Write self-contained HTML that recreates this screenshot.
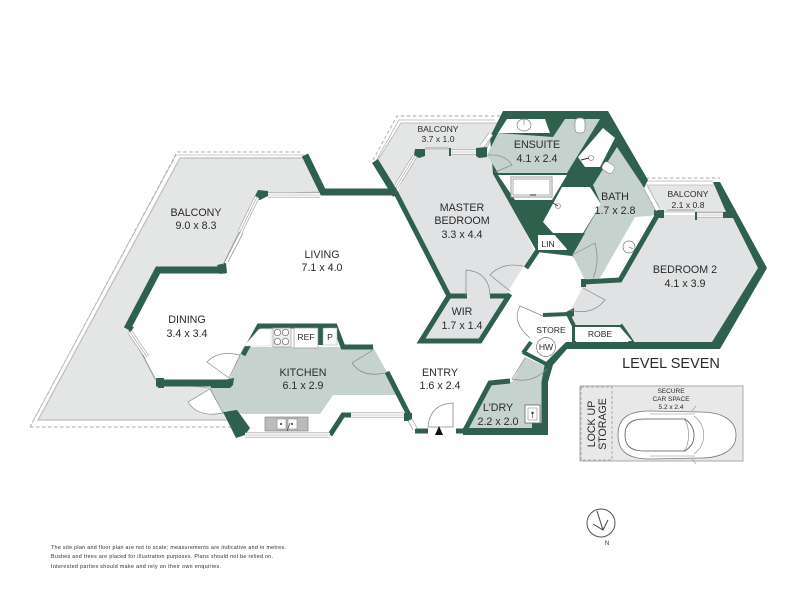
<!DOCTYPE html>
<html><head><meta charset="utf-8"><style>
html,body{margin:0;padding:0;background:#fff}
svg{display:block;filter:blur(.3px)}
text{font-family:"Liberation Sans",sans-serif;fill:#2a2a2a;text-anchor:middle}
.w{fill:none;stroke:#2f5f4d;stroke-linejoin:miter;stroke-linecap:butt}
.d{fill:#2f5f4d}
.t{fill:none;stroke:#888;stroke-width:.7}
.s{fill:#fff;stroke:#8a8a8a;stroke-width:.7}
.g1{stroke:#9a9a9a;stroke-width:5;fill:none}.g2{stroke:#fff;stroke-width:3.8;fill:none}.g3{stroke:#9a9a9a;stroke-width:.6;fill:none}
.dash{fill:none;stroke:#aaa;stroke-width:.9;stroke-dasharray:3.5 2.5}
.dr{fill:#fff;stroke:#888;stroke-width:.7}
</style></head><body>
<svg width="800" height="600" viewBox="0 0 800 600" xmlns="http://www.w3.org/2000/svg">
<rect width="800" height="600" fill="#fff"/>

<!-- big balcony -->
<polyline class="dash" points="30,427 177,152 300,152"/>
<polyline class="dash" points="30,427 240,427"/>
<polyline fill="none" stroke="#b5b5b5" stroke-width=".8" points="32,423 176,155 304,155"/>
<polygon fill="#e4e6e5" stroke="#bdbdbd" stroke-width="1.2" points="38,420 180,158 304,158 320,192 268,194 258,193 222,267 158,270 127,327 157,382 210,388 225,413 234,420"/>

<!-- master balcony -->
<polyline class="dash" points="373,160 397,116 500,116"/>
<polyline fill="none" stroke="#b5b5b5" stroke-width=".8" points="376,161 399,120 495,120"/>
<polygon fill="#e4e6e5" stroke="#bdbdbd" stroke-width="1" points="378,160 401,123 498,123 486,150 418,150 396,190"/>

<!-- bed2 balcony -->
<polyline class="dash" stroke-dasharray="2 2" points="646,178 720,178"/>
<polyline fill="none" stroke="#b5b5b5" stroke-width=".8" points="645,181 712,181"/>
<polygon fill="#e4e6e5" stroke="#bbb" stroke-width=".8" points="647,185 715,185 727,212 660,212"/>

<!-- bedrooms -->
<polygon fill="#e0e2e4" points="397,193 418,150 486,150 534,250 505,296 448,296"/>
<polygon fill="#e0e2e4" points="417,343 447,297 510,295 478,343"/>
<polygon fill="#e0e2e4" points="585,282 620,280 660,215 736,215 762,268 715,344 638,344 620,325 575,325 570,312"/>

<!-- kitchen -->
<polygon fill="#c5d2cd" points="230,378 243,347 373,347 387,372 397,395 333,395 320,414 243,414 223,410 210,388"/>

<!-- ensuite/bath dark mass -->
<polygon class="d" points="490,137 503,111 608,111 648,180 600,278 572,256 537,252 493,174"/>
<polygon fill="#c5d2cd" points="498,133 553,137 565,119 600,119 567,173 498,173 487,155"/>
<polygon fill="#fff" points="498,133 507,119 545,119 550,133"/>
<polygon fill="#fff" points="498,175 567,175 552,200 515,200"/>
<polygon fill="#fff" points="578,157 603,128 615,138 600,167 585,167"/>
<polygon fill="#fff" points="543,222 562,187 590,187 601,204 583,233 553,233"/>
<polygon fill="#c5d2cd" points="617,147 641,183 660,215 635,217 600,278 585,280 572,254 601,204 593,185"/>
<polygon fill="#fff" points="637,218 653,218 618,278 600,278"/>
<rect x="538" y="235" width="29" height="15" fill="#fff"/>
<polygon class="d" points="553,233 585,233 572,256 566,248"/>

<!-- walls -->
<polyline class="w" stroke-width="7" points="305,155 323,192 394,192"/>
<polyline class="w" stroke-width="7" points="375,161 396,195"/>
<polyline class="w" stroke-width="5" points="396,193 449,296 467,296"/>
<polyline class="w" stroke-width="5" points="490,296 510,296"/>
<polyline class="w" stroke-width="5" points="449,296 421,341 480,341 510,294"/>
<polyline class="w" stroke-width="5" points="526,268 538,250"/>
<polyline class="w" stroke-width="7" points="226,270 158,270 127,329"/>
<polyline class="w" stroke-width="7" points="156,383 232,383"/>
<polygon class="d" points="127,325 130,333 134,327"/>
<polygon class="d" points="156,378 164,378 164,388 158,388"/>
<polygon class="d" points="258,190 268,191 268,196 260,200 254,198"/>
<polygon class="d" points="217,265 226,263 227,273 220,274"/>
<polygon class="d" points="229,379 234,378 233,385 230,388 211,388 210,383"/>
<polyline class="w" stroke-width="5" points="243,355 259,326 335,326 343,347 373,347"/>
<rect class="d" x="318" y="326" width="5" height="19"/>
<polyline class="w" stroke-width="5" points="387,372 410,417"/>
<polygon class="d" points="223,412 237,410 250,428 245,435 236,438"/>
<polyline class="w" stroke-width="5" points="330,435 343,415 351,415"/>
<rect class="d" x="404" y="413" width="8" height="8"/>
<polyline class="w" stroke-width="5" points="415,431 428,431"/>
<polyline class="w" stroke-width="5" points="456,431 466,431"/>
<!-- laundry fill then walls -->
<polygon fill="#c5d2cd" points="466,430 491,384 512,382 525,357 547,367 544,382 544,430"/>
<polyline class="w" stroke-width="5" points="464,432 490,383 510,381"/>
<polygon class="d" points="463,435 548,435 548,382 553,365 567,349 720,349 767,268 720,182 713,182 726,212 733,218 758,268 712,342 566,342 545,363 541.5,382 541.5,423 532,423 532,428 463,428"/>
<polyline class="w" stroke-width="4" points="523,352 548,365"/>
<polyline class="w" stroke-width="4" points="523,353 531,342"/>
<polyline class="w" stroke-width="4" points="543,315 568,314 574,326 574,343"/>
<polygon class="d" points="566,312 574,308 574,316 568,318"/>
<polyline class="w" stroke-width="5" points="620,325 633,344"/>
<polygon class="d" points="585,325 620,325 622,327 576,327 574,325"/>
<polyline class="w" stroke-width="5" points="658,214 620,280 583,282"/>
<rect class="d" x="654" y="210" width="10" height="8"/>
<rect class="d" x="581" y="279" width="5" height="8"/>
<rect fill="#fff" x="575" y="327" width="45" height="14"/>
<polygon fill="#fff" points="620,327 632,341 620,341"/>
<polygon class="d" points="415,149 425,149 425,156 419,158 414,155"/>
<polygon class="d" points="476,148 487,147 487,157 479,158 476,156"/>
<rect class="d" x="449" y="148" width="2" height="8"/>
<rect class="d" x="695" y="212" width="2" height="8"/>
<rect class="d" x="723" y="212" width="10" height="6"/>

<!-- windows -->
<polyline class="g1" points="268,195 320,195"/><polyline class="g2" points="268,195 320,195"/><polyline class="g3" points="268,195 320,195"/>
<polyline class="g1" points="257,197 240,232"/><polyline class="g2" points="257,197 240,232"/><polyline class="g3" points="257,197 240,232"/>
<polyline class="t" points="240,232 223,265"/><polyline class="t" points="243,233 228,262"/>
<polyline class="g1" points="130,332 147,357"/><polyline class="g2" points="130,332 147,357"/><polyline class="g3" points="130,332 147,357"/>
<polyline class="t" points="143,355 155,379"/>
<polyline class="g1" points="415,156 396,187"/><polyline class="g2" points="415,156 396,187"/><polyline class="g3" points="415,156 396,187"/>
<polyline class="g1" points="451,152 476,152"/><polyline class="g2" points="451,152 476,152"/><polyline class="g3" points="451,152 476,152"/>
<polyline class="t" points="425,148 449,148"/>
<polyline class="g1" points="482,146 491,134"/><polyline class="g2" points="482,146 491,134"/>
<polyline class="g1" points="646,188 658,210"/><polyline class="g2" points="646,188 658,210"/>
<polyline class="g1" points="697,215 723,215"/><polyline class="g2" points="697,215 723,215"/><polyline class="g3" points="697,215 723,215"/>
<polyline class="t" points="667,210 695,210"/>
<polyline class="g1" points="245,435 330,435"/><polyline class="g2" points="245,435 330,435"/><polyline class="g3" points="245,435 330,435"/>
<polyline class="g1" points="351,415 404,415"/><polyline class="g2" points="351,415 404,415"/><polyline class="g3" points="351,415 404,415"/>
<polyline class="g1" points="410,420 415,429"/><polyline class="g2" points="410,420 415,429"/>

<!-- doors -->
<path class="dr" d="M229,378 L207,362 Q218,350 240,355 Z"/>
<path class="dr" d="M210,389 L188,402 Q198,418 223,413 Z"/>
<path class="t" d="M373,350 L352,363 Q362,378 385,373"/>
<path class="dr" d="M453,427 L453,403 Q430,404 428,427 Z" style="stroke-width:.8"/>
<path class="t" d="M495,172 L512,165 Q505,154 488,155" fill="none"/>
<path class="t" d="M466,296 L466,270 Q489,272 490,295"/>
<path class="t" d="M510,291 L490,275 Q502,262 523,266"/>
<path class="dr" d="M543,316 L520,306 Q511,322 530,338"/>
<path class="t" d="M512,379 L525,358"/>
<path class="t" d="M512,379 Q532,384 547,369"/>
<path class="t" d="M595,243 L572,255 M595,243 Q600,262 593,278"/>
<path class="t" d="M583,288 L605,300 Q592,316 570,310"/>
<polygon fill="#111" points="439,426 443,435 435,435"/>

<!-- fixtures -->
<ellipse cx="524" cy="125" rx="7" ry="6" fill="#fff" stroke="#777" stroke-width=".7"/>
<path class="t" d="M524,119V125"/>
<rect x="575" y="118" width="10" height="15" rx="4" fill="#fff" stroke="#888" stroke-width=".7"/>
<rect x="511" y="177" width="41" height="20" fill="#fff" stroke="#999" stroke-width="1"/>
<rect x="513" y="179" width="37" height="16" fill="#fff" stroke="#777" stroke-width=".6"/>
<path d="M530,195h6" stroke="#444" stroke-width="1.2"/>
<circle cx="591" cy="158" r="2.5" fill="#fff" stroke="#777" stroke-width=".6"/>
<circle cx="558" cy="206" r="2.5" fill="#fff" stroke="#777" stroke-width=".6"/>
<path d="M581,160l8,-2M553,203l5,3" stroke="#333" stroke-width="1"/>
<rect x="602" y="163" width="12" height="9" rx="3" transform="rotate(32 608 168)" fill="#fff" stroke="#888" stroke-width=".6"/>
<circle cx="629" cy="247" r="6" fill="#fff" stroke="#777" stroke-width=".7"/>
<path class="t" d="M629,247l4,2"/>
<rect x="273" y="328" width="18" height="19" fill="#eee" stroke="#999" stroke-width=".7"/>
<g fill="#fff" stroke="#666" stroke-width=".7"><circle cx="277.5" cy="332.5" r="3.2"/><circle cx="285.5" cy="332.5" r="3.2"/><circle cx="277.5" cy="341.5" r="3.2"/><circle cx="285.5" cy="341.5" r="3.2"/></g>
<rect x="294" y="328" width="24" height="20" fill="#fff" stroke="#999" stroke-width=".7"/>
<rect x="323" y="328" width="14" height="17" fill="#fff" stroke="#999" stroke-width=".5"/>
<polygon fill="#fff" points="259,329 271,329 271,346 244,346" stroke="#bbb" stroke-width=".4"/>
<rect x="265" y="417" width="43" height="14" fill="#bbb" stroke="#777" stroke-width=".6"/>
<rect x="277" y="419" width="9" height="10" fill="#fff" stroke="#777" stroke-width=".5"/>
<rect x="288" y="419" width="9" height="10" fill="#fff" stroke="#777" stroke-width=".5"/>
<circle cx="281" cy="424" r="1" fill="#333"/><circle cx="292" cy="424" r="1" fill="#333"/>
<path d="M287,431l3,-8" stroke="#333" stroke-width=".7"/>
<rect x="525" y="405" width="15" height="18" fill="#fff" stroke="#666" stroke-width=".8"/>
<rect x="528" y="408" width="9" height="12" fill="#fff" stroke="#888" stroke-width=".6"/>
<circle cx="532.5" cy="413" r="1.2" fill="#333"/><path d="M532.5,413v5" stroke="#333" stroke-width=".6"/>
<circle cx="546" cy="347" r="9.5" fill="#fff" stroke="#777" stroke-width=".7"/>

<!-- labels -->
<g font-size="10.7">
<text x="196" y="216">BALCONY</text><text x="196" y="229">9.0 x 8.3</text>
<text x="322" y="258">LIVING</text><text x="322" y="271">7.1 x 4.0</text>
<text x="187" y="323">DINING</text><text x="187" y="337">3.4 x 3.4</text>
<text x="303" y="376">KITCHEN</text><text x="303" y="389">6.1 x 2.9</text>
<text x="440" y="376">ENTRY</text><text x="440" y="389">1.6 x 2.4</text>
<text x="462" y="211">MASTER</text><text x="462" y="224">BEDROOM</text><text x="462" y="238">3.3 x 4.4</text>
<text x="537" y="148">ENSUITE</text><text x="537" y="162">4.1 x 2.4</text>
<text x="615" y="200">BATH</text><text x="615" y="214">1.7 x 2.8</text>
<text x="685" y="273">BEDROOM 2</text><text x="685" y="287">4.1 x 3.9</text>
<text x="462" y="315">WIR</text><text x="462" y="329">1.7 x 1.4</text>
<text x="498" y="411">L'DRY</text><text x="498" y="425">2.2 x 2.0</text>
</g>
<g font-size="8.6">
<text x="438" y="132">BALCONY</text><text x="438" y="142">3.7 x 1.0</text>
<text x="688" y="197">BALCONY</text><text x="688" y="208">2.1 x 0.8</text>
<text x="600" y="337">ROBE</text>
<text x="551" y="333">STORE</text>
<text x="548" y="247">LIN</text>
<text x="306" y="340">REF</text>
<text x="330" y="340">P</text>
<text x="546" y="350">HW</text>
</g>
<text x="671" y="368" font-size="14.5">LEVEL SEVEN</text>

<!-- car -->
<rect x="580" y="386" width="163" height="75" fill="#e8e8e8" stroke="#aaa" stroke-width="1"/>
<rect x="581" y="387" width="31" height="73" fill="#e8e8e8" stroke="#999" stroke-width=".8" stroke-dasharray="3 2"/>
<text transform="translate(595,424) rotate(-90)" font-size="10.6">LOCK UP</text>
<text transform="translate(606,424) rotate(-90)" font-size="10.6">STORAGE</text>
<text x="671" y="393" font-size="6.5">SECURE</text>
<text x="671" y="401" font-size="6.5">CAR SPACE</text>
<text x="671" y="409" font-size="6.5">5.2 x 2.4</text>
<path d="M618,435 C618,417 630,411 650,411 L700,412 C722,412 736,420 736,435 C736,450 722,458 700,458 L650,459 C630,459 618,453 618,435Z" fill="#fff" stroke="#777" stroke-width=".8"/>
<path d="M625,435 C625,423 632,419 645,419 L685,419 C692,424 694,430 694,435 C694,442 692,446 685,451 L645,451 C632,451 625,447 625,435Z" fill="#fff" stroke="#555" stroke-width=".8"/>
<path d="M684,419 C690,426 690,444 684,451 M694,416 C707,425 707,445 694,454 M650,414 L695,414 M650,456 L695,456 M692,411l4,-5 M692,459l4,5" fill="none" stroke="#888" stroke-width=".6"/>

<!-- north -->
<circle cx="601" cy="523" r="14" fill="#fff" stroke="#555" stroke-width="1"/>
<path d="M597,511 L603,530 M593,524 L603,530 L608,520" fill="none" stroke="#444" stroke-width="1"/>
<text x="607" y="545" font-size="6">N</text>

<!-- footnote -->
<g style="text-anchor:start">
<text x="51" y="549" font-size="5.3" textLength="235" style="text-anchor:start">The site plan and floor plan are not to scale; measurements are indicative and in metres.</text>
<text x="51" y="558" font-size="5.3" textLength="222" style="text-anchor:start">Bushes and trees are placed for illustration purposes. Plans should not be relied on.</text>
<text x="51" y="568" font-size="5.3" textLength="170" style="text-anchor:start">Interested parties should make and rely on their own enquiries.</text>
</g>
</svg>
</body></html>
